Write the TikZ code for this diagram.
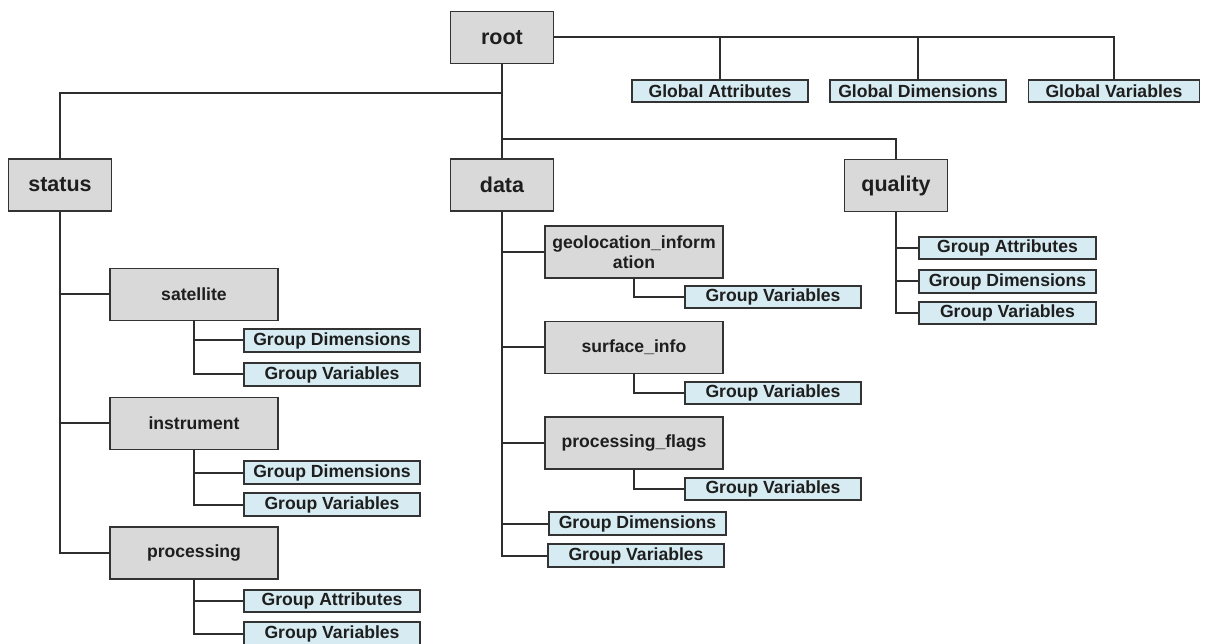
\documentclass[tikz,border=0pt]{standalone}
\usepackage{fontspec}
\setmainfont{Liberation Sans}
\definecolor{linegray}{HTML}{2E2E2E}
\definecolor{boxedge}{HTML}{333333}
\definecolor{grpfill}{HTML}{D9D9D9}
\definecolor{itemfill}{HTML}{D6ECF2}
\definecolor{txt}{HTML}{1E1E1E}
\begin{document}
\begin{tikzpicture}[x=1pt,y=-1pt,
  edge/.style={draw=linegray,line width=2pt},
  grp/.style={draw=boxedge,line width=1.8pt,fill=grpfill,minimum height=52pt,
    minimum width=168pt,inner sep=0pt,text=txt,align=center,
    font=\bfseries\fontsize{17.6}{20}\selectfont},
  topgrp/.style={grp,minimum width=103pt,font=\bfseries\fontsize{21.5}{24}\selectfont},
  item/.style={draw=boxedge,line width=1.8pt,fill=itemfill,minimum height=22.5pt,
    minimum width=176pt,inner sep=0pt,text=txt,
    font=\bfseries\fontsize{17.6}{20}\selectfont},
]
\useasboundingbox (0,0) rectangle (1211,644);
\fill[white] (0,0) rectangle (1211,644);

% top level
\node[topgrp] (root) at (502,37.5) {root};
\node[topgrp] (status) at (60,185) {status};
\node[topgrp] (data) at (502,185) {data};
\node[topgrp] (quality) at (896,185.5) {quality};

% global items
\node[item] (gattr) at (720,91) {Global Attributes};
\node[item] (gdim) at (918,91) {Global Dimensions};
\node[item,minimum width=171pt] (gvar) at (1114,91) {Global Variables};

% status branch
\node[grp] (sat) at (194,294.5) {satellite};
\node[grp] (ins) at (194,423.5) {instrument};
\node[grp] (proc) at (194,553) {processing};
\node[item] (satdim) at (332,340.5) {Group Dimensions};
\node[item] (satvar) at (332,374.5) {Group Variables};
\node[item] (insdim) at (332,472.5) {Group Dimensions};
\node[item] (insvar) at (332,504.5) {Group Variables};
\node[item] (procattr) at (332,601) {Group Attributes};
\node[item] (procvar) at (332,633.5) {Group Variables};

% data branch
\node[grp,minimum width=178pt] (geo) at (634,252) {geolocation\_inform\\ation};
\node[grp,minimum width=178pt] (surf) at (634,347.5) {surface\_info};
\node[grp,minimum width=178pt] (flags) at (634,443) {processing\_flags};
\node[item] (geovar) at (773,297) {Group Variables};
\node[item] (surfvar) at (773,393) {Group Variables};
\node[item] (flagsvar) at (773,489) {Group Variables};
\node[item,minimum width=177pt] (ddim) at (637.5,523.5) {Group Dimensions};
\node[item] (dvar) at (636,555.5) {Group Variables};

% quality branch
\node[item,minimum width=177pt] (qattr) at (1007.5,248) {Group Attributes};
\node[item,minimum width=177pt] (qdim) at (1007.5,281.5) {Group Dimensions};
\node[item,minimum width=177pt] (qvar) at (1007.5,313) {Group Variables};

% junctions on the root trunk
\coordinate (rj) at (502,93.5);
\coordinate (qj) at (502,139);

% connectors
\draw[edge] (root.east) -| (gattr.north);
\draw[edge] (root.east) -| (gdim.north);
\draw[edge] (root.east) -| (gvar.north);
\draw[edge] (root.south) -- (data.north);
\draw[edge] (rj) -| (status.north);
\draw[edge] (qj) -| (quality.north);

\draw[edge] (status.south) |- (sat.west);
\draw[edge] (status.south) |- (ins.west);
\draw[edge] (status.south) |- (proc.west);
\draw[edge] (sat.south) |- (satdim.west);
\draw[edge] (sat.south) |- (satvar.west);
\draw[edge] (ins.south) |- (insdim.west);
\draw[edge] (ins.south) |- (insvar.west);
\draw[edge] (proc.south) |- (procattr.west);
\draw[edge] (proc.south) |- (procvar.west);

\draw[edge] (data.south) |- (geo.west);
\draw[edge] (data.south) |- (surf.west);
\draw[edge] (data.south) |- (flags.west);
\draw[edge] (data.south) |- (ddim.west);
\draw[edge] (data.south) |- (dvar.west);
\draw[edge] (geo.south) |- (geovar.west);
\draw[edge] (surf.south) |- (surfvar.west);
\draw[edge] (flags.south) |- (flagsvar.west);

\draw[edge] (quality.south) |- (qattr.west);
\draw[edge] (quality.south) |- (qdim.west);
\draw[edge] (quality.south) |- (qvar.west);
\end{tikzpicture}
\end{document}
